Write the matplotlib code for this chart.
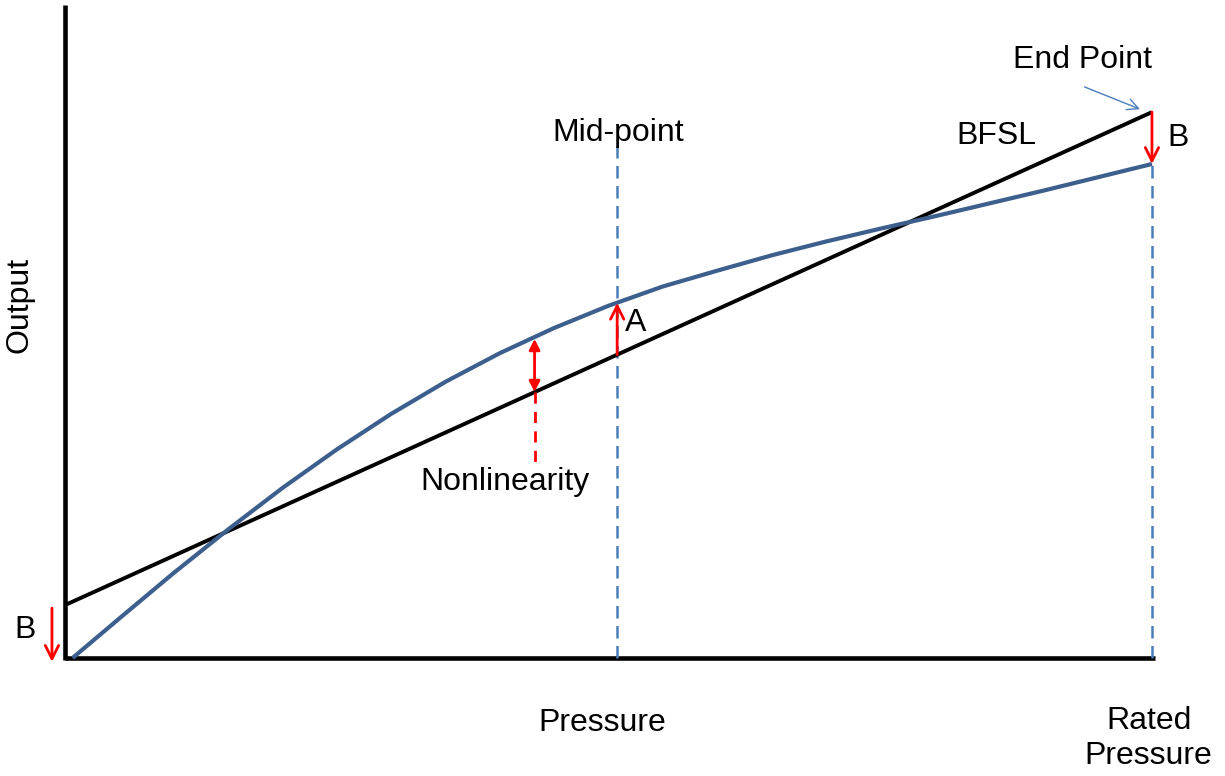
import numpy as np
import matplotlib.pyplot as plt

plt.rcParams['font.family'] = ['Liberation Sans', 'DejaVu Sans']

# pressure in % of rated, output in % of full-scale output
pressure = [0.7, 5, 10, 15, 20, 25, 30, 35, 40, 45, 50, 55, 60, 65, 70, 75, 80, 85, 90, 95, 100]
output = [0.0, 8.0, 17.2, 26.0, 34.4, 42.2, 49.4, 55.9, 61.7, 66.8, 71.3, 75.2,
          78.4, 81.5, 84.3, 86.9, 89.4, 92.0, 94.6, 97.3, 100.0]

bfsl_p = [0, 100]
bfsl_o = [10.7, 110.5]

mid_p = 50.8
nonlin_p = 43.2
nonlin_curve = 64.6
mid_curve = 71.9
end_curve = 100.0

def bfsl(p):
    return bfsl_o[0] + (bfsl_o[1] - bfsl_o[0]) * p / 100

fig = plt.figure(figsize=(12.25, 7.76), dpi=100)
ax = fig.add_axes([0, 0, 1, 1])
ax.set_xlim(-5.98, 106.72)
ax.set_ylim(-23.9, 133.2)
ax.axis('off')

red = '#FF0000'
dblue = '#4A7EBB'
cblue = '#3C5F8E'

# axes lines
ax.plot([0, 0], [-0.4, 132.2], color='black', lw=3.3, solid_capstyle='butt')
ax.plot([0, 100.3], [0, 0], color='black', lw=3.3, solid_capstyle='butt')

# dashed verticals
ax.plot([mid_p, mid_p], [0, 103.8], color=dblue, lw=1.8, ls=(0, (5, 3)))
ax.plot([100, 100], [0, end_curve], color=dblue, lw=1.8, ls=(0, (5, 3)))

# BFSL and output curve
ax.plot(bfsl_p, bfsl_o, color='black', lw=2.8, solid_capstyle='butt')
ax.plot(pressure, output, color=cblue, lw=3.0, solid_capstyle='butt')

# red arrows
arr = dict(arrowstyle='->', color=red, lw=2.0, mutation_scale=24, shrinkA=0, shrinkB=0)
ax.annotate('', xy=(mid_p, mid_curve), xytext=(mid_p, bfsl(mid_p)), arrowprops=arr)
ax.annotate('', xy=(100, end_curve), xytext=(100, bfsl_o[1]), arrowprops=arr)
ax.annotate('', xy=(-1.2, -0.8), xytext=(-1.2, 10.1), arrowprops=arr)
ax.annotate('', xy=(nonlin_p, nonlin_curve), xytext=(nonlin_p, bfsl(nonlin_p)),
            arrowprops=dict(arrowstyle='<|-|>', color=red, lw=2.0, mutation_scale=16,
                            shrinkA=0, shrinkB=0))
ax.plot([nonlin_p, nonlin_p], [bfsl(nonlin_p), 38.7], color=red, lw=2.0, ls=(0, (4, 3)))

# end point pointer
ax.annotate('', xy=(98.9, 111.1), xytext=(93.8, 115.6),
            arrowprops=dict(arrowstyle='->', color=dblue, lw=1.0, mutation_scale=20,
                            shrinkA=0, shrinkB=0))

fs = 23
ax.text(-4.14, 71.5, 'Output', rotation=90, fontsize=fs, ha='center', va='center')
ax.text(49.4, -13.2, 'Pressure', fontsize=fs, ha='center', va='center')
ax.text(99.7, -16.3, 'Rated\nPressure', fontsize=fs, ha='center', va='center', linespacing=1.25)
ax.text(50.9, 106.3, 'Mid-point', fontsize=fs, ha='center', va='center')
ax.text(85.7, 105.7, 'BFSL', fontsize=fs, ha='center', va='center')
ax.text(93.6, 121.0, 'End Point', fontsize=fs, ha='center', va='center')
ax.text(102.4, 105.3, 'B', fontsize=fs, ha='center', va='center')
ax.text(52.5, 67.8, 'A', fontsize=fs, ha='center', va='center')
ax.text(-3.7, 5.7, 'B', fontsize=fs, ha='center', va='center')
ax.text(40.5, 35.6, 'Nonlinearity', fontsize=fs, ha='center', va='center')

fig.savefig('out.png', dpi=100)
